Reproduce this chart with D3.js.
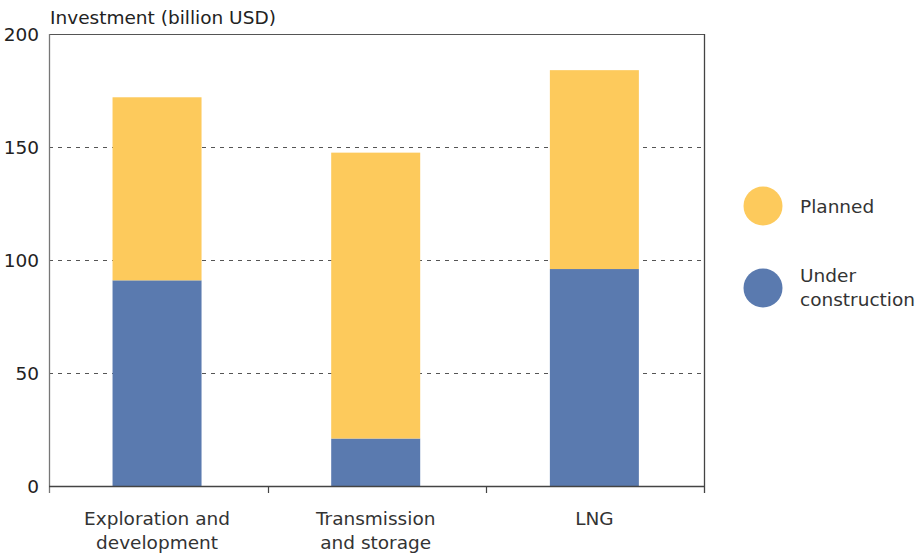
<!DOCTYPE html>
<html>
<head>
<meta charset="utf-8">
<script src="https://cdn.jsdelivr.net/npm/d3@7"></script>
<style>
  body { margin: 0; background: #fff; }
  text { font-family: "DejaVu Sans", "Open Sans", sans-serif; fill: #222; }
</style>
</head>
<body>
<svg id="chart" width="923" height="554"></svg>
<script>
// Investment by segment, billion USD
const categories = [["Exploration and", "development"], ["Transmission", "and storage"], ["LNG"]];
const underConstruction = [91, 21, 96];
const planned = [81, 126.5, 88];
const seriesNames = ["Planned", "Under construction"];
const yTicks = [0, 50, 100, 150, 200];
const colors = { planned: "#FDCA5C", under: "#5A7AAF" };

const svg = d3.select("#chart");
const margin = { left: 49, right: 218, top: 34, bottom: 68 };
const W = 923, H = 554;
const x0 = margin.left, x1 = W - margin.right, y0 = H - margin.bottom, y1 = margin.top;
const fs = 18.5;
const lineGap = 24;

const keys = categories.map((c, i) => i);
const x = d3.scaleBand().domain(keys).range([x0, x1]).paddingInner(0.593).paddingOuter(0.2965).align(0.49);
const xEdge = d3.scaleBand().domain(keys).range([x0, x1]).padding(0);
const y = d3.scaleLinear().domain([0, 200]).range([y0, y1]);

// dashed gridlines
svg.append("g").selectAll("line").data(yTicks.filter(t => t > 0 && t < 200)).join("line")
  .attr("x1", x0).attr("x2", x1)
  .attr("y1", d => Math.round(y(d)) + 0.5).attr("y2", d => Math.round(y(d)) + 0.5)
  .attr("stroke", "#555").attr("stroke-width", 1).attr("stroke-dasharray", "4,5");

// stacked bars
const stackData = keys.map(i => ({ i, under: underConstruction[i], planned: planned[i] }));
const stacked = d3.stack().keys(["under", "planned"])(stackData);
svg.append("g").selectAll("g").data(stacked).join("g")
  .attr("fill", s => colors[s.key])
  .selectAll("rect").data(s => s).join("rect")
  .attr("x", d => x(d.data.i))
  .attr("width", x.bandwidth())
  .attr("y", d => y(d[1]))
  .attr("height", d => y(d[0]) - y(d[1]));

// frame
svg.append("line").attr("x1", x0).attr("x2", x1).attr("y1", y1 + 0.5).attr("y2", y1 + 0.5)
  .attr("stroke", "#555").attr("stroke-width", 1.2);
svg.append("line").attr("x1", x1 - 0.5).attr("x2", x1 - 0.5).attr("y1", y1).attr("y2", y0 + 7)
  .attr("stroke", "#444").attr("stroke-width", 1.3);
svg.append("line").attr("x1", x0 + 0.5).attr("x2", x0 + 0.5).attr("y1", y1).attr("y2", y0 + 7)
  .attr("stroke", "#777").attr("stroke-width", 1.3);
svg.append("line").attr("x1", x0).attr("x2", x1).attr("y1", y0 + 0.5).attr("y2", y0 + 0.5)
  .attr("stroke", "#444").attr("stroke-width", 1.3);

// category boundary ticks
svg.append("g").selectAll("line").data(keys.slice(1)).join("line")
  .attr("x1", d => Math.round(xEdge(d)) + 0.5).attr("x2", d => Math.round(xEdge(d)) + 0.5)
  .attr("y1", y0).attr("y2", y0 + 7)
  .attr("stroke", "#444").attr("stroke-width", 1.2);

// y tick labels
svg.append("g").selectAll("text").data(yTicks).join("text")
  .attr("x", 39).attr("y", d => y(d) + 7)
  .attr("text-anchor", "end").attr("font-size", fs)
  .text(d => d);

// axis title
svg.append("text").attr("x", 50).attr("y", 24).attr("font-size", fs)
  .text("Investment (billion USD)");

// category labels, one text per line
const catLines = keys.flatMap(i => categories[i].map((t, j) => ({ i, j, t })));
svg.append("g").selectAll("text").data(catLines).join("text")
  .attr("x", d => x(d.i) + x.bandwidth() / 2)
  .attr("y", d => 525 + d.j * lineGap)
  .attr("text-anchor", "middle").attr("font-size", fs).style("fill", "#333")
  .text(d => d.t);

// legend
const legend = svg.append("g");
legend.append("circle").attr("cx", 763).attr("cy", 206).attr("r", 19.5).attr("fill", colors.planned);
legend.append("text").attr("x", 800).attr("y", 213).attr("font-size", fs).style("fill", "#333").text(seriesNames[0]);
legend.append("circle").attr("cx", 763).attr("cy", 288).attr("r", 19.5).attr("fill", colors.under);
legend.selectAll("text.under").data(["Under", "construction"]).join("text")
  .attr("class", "under")
  .attr("x", 800).attr("y", (d, j) => 282 + j * lineGap)
  .attr("font-size", fs).style("fill", "#333")
  .text(d => d);
</script>
</body>
</html>
